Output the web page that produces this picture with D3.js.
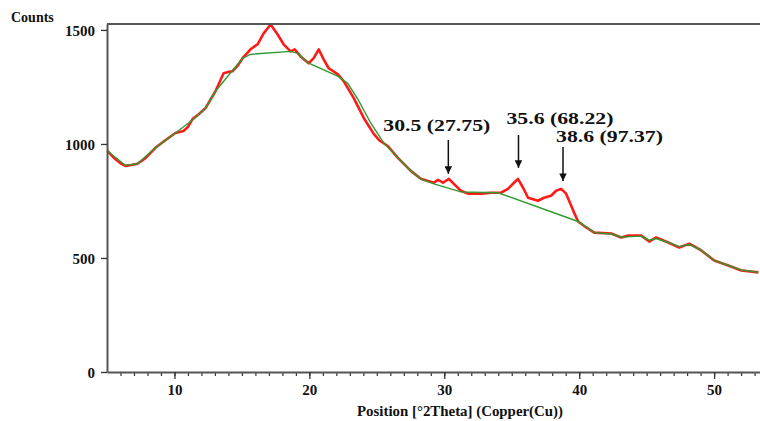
<!DOCTYPE html>
<html>
<head>
<meta charset="utf-8">
<script src="https://cdn.jsdelivr.net/npm/d3@7"></script>
<style>
  body { margin: 0; background: #fff; }
  svg { display: block; }
  text { font-family: "Liberation Serif", "Times New Roman", serif; font-weight: bold; fill: #111; }
</style>
</head>
<body>
<div id="chart"></div>
<script>
var obsPos = [5.03, 5.5, 6.0, 6.36, 6.8, 7.25, 7.8, 8.59, 9.3, 10.07, 10.67, 11.0, 11.34, 11.8, 12.3,
  13.04, 13.64, 14.0, 14.31, 14.7, 15.05, 15.64, 16.16, 16.61, 17.13, 17.65, 18.09, 18.61, 18.91,
  19.35, 19.95, 20.32, 20.69, 21.06, 21.43, 22.1, 22.55, 23.29, 24.03, 24.77, 25.2, 25.81, 26.56,
  27.52, 28.26, 28.78, 29.23, 29.53, 29.9, 30.34, 30.71, 31.23, 31.75, 32.72, 33.46, 34.2, 34.72,
  35.17, 35.46, 35.84, 36.21, 36.95, 37.39, 37.91, 38.29, 38.66, 39.03, 39.25, 39.62, 39.92, 40.5,
  41.11, 42.37, 43.11, 43.63, 44.6, 45.19, 45.71, 46.6, 47.42, 48.16, 49.05, 50.01, 51.05, 52.02, 53.28];
var obsCounts = [969, 940, 915, 904, 908, 913, 935, 983, 1015, 1048, 1057, 1075, 1109, 1130, 1157,
  1231, 1310, 1316, 1319, 1345, 1376, 1415, 1437, 1485, 1524, 1480, 1437, 1406, 1415,
  1384, 1354, 1376, 1415, 1371, 1332, 1306, 1275, 1201, 1114, 1044, 1015, 991, 939,
  882, 847, 838, 830, 843, 830, 847, 825, 795, 782, 782, 786, 786, 803,
  830, 847, 808, 764, 751, 764, 773, 795, 803, 782, 751, 699, 660, 635,
  611, 607, 590, 598, 598, 572, 590, 568, 546, 563, 533, 489, 467, 445, 437];

// fitted background (green)
var bgPos = [5.03, 6.36, 7.25, 8.59, 10.07, 11.34, 12.3, 13.04, 15.05, 15.64, 18.61, 19.13, 19.95,
  22.1, 22.84, 23.59, 24.55, 25.52, 26.56, 27.52, 28.26, 29.23, 31.23, 33.98, 39.92, 41.11,
  42.37, 43.11, 44.6, 45.19, 45.71, 46.6, 47.42, 48.16, 49.05, 50.01, 51.05, 52.02, 53.28];
var bgCounts = [969, 906, 913, 983, 1048, 1105, 1157, 1231, 1376, 1393, 1406, 1397, 1354,
  1297, 1266, 1197, 1092, 1004, 939, 882, 847, 825, 790, 786, 660, 611,
  605, 592, 596, 578, 585, 568, 550, 560, 533, 489, 467, 447, 437];

var xTicks = [10, 20, 30, 40, 50];
var yTicks = [0, 500, 1000, 1500];

var peakPos = [30.3, 35.5, 38.8];
var peakCounts = [847, 847, 803];
var peakLabels = ["30.5 (27.75)", "35.6 (68.22)", "38.6 (97.37)"];

var W = 760, H = 421;
var mLeft = 107, mRight = 762, mTop = 24, mBottom = 372;

var svg = d3.select("#chart").append("svg")
    .attr("width", W)
    .attr("height", H);

var x = d3.scaleLinear().domain([5, 53.55]).range([mLeft, mRight]);
var y = d3.scaleLinear().domain([0, 1526]).range([mBottom, mTop]);

var line = d3.line()
    .x(function(d){ return x(d[0]); })
    .y(function(d){ return y(d[1]); });

// red observed trace
svg.append("path")
    .datum(d3.zip(obsPos, obsCounts))
    .attr("d", line)
    .attr("fill", "none")
    .attr("stroke", "#ff1a1a")
    .attr("stroke-width", 2.6)
    .attr("stroke-linejoin", "round");

// green background on top
svg.append("path")
    .datum(d3.zip(bgPos, bgCounts))
    .attr("d", line)
    .attr("fill", "none")
    .attr("stroke", "#2f9a2f")
    .attr("stroke-width", 1.4);

// minor x ticks
svg.append("g")
    .attr("transform", "translate(0," + mBottom + ")")
    .call(d3.axisBottom(x).tickValues(d3.range(6, 54)).tickSize(4).tickFormat(""))
    .call(function(g){ g.select(".domain").remove(); })
    .selectAll("line").attr("stroke", "#333").attr("stroke-width", 1.2);

var xAxis = svg.append("g")
    .attr("transform", "translate(0," + mBottom + ")")
    .call(d3.axisBottom(x).tickValues(xTicks).tickSize(7).tickSizeOuter(0));
xAxis.select(".domain").attr("stroke", "#555").attr("stroke-width", 2);
xAxis.selectAll(".tick line").attr("stroke", "#333").attr("stroke-width", 1.3);
xAxis.selectAll(".tick text")
    .attr("y", 23).attr("dy", 0)
    .style("font-size", "15px")
    .style("font-family", "Liberation Serif")
    .style("font-weight", "bold")
    .attr("fill", "#111");

var yAxis = svg.append("g")
    .attr("transform", "translate(" + mLeft + ",0)")
    .call(d3.axisLeft(y).tickValues(yTicks).tickSize(6).tickPadding(6).tickSizeOuter(0)
        .tickFormat(d3.format("d")));
yAxis.select(".domain").attr("stroke", "#555").attr("stroke-width", 2);
yAxis.selectAll(".tick line").attr("stroke", "#333").attr("stroke-width", 1.3);
yAxis.selectAll(".tick text")
    .attr("dy", "0.35em")
    .style("font-size", "15px")
    .style("font-family", "Liberation Serif")
    .style("font-weight", "bold")
    .attr("fill", "#111");

// top frame line
svg.append("line")
    .attr("x1", mLeft).attr("x2", W)
    .attr("y1", mTop).attr("y2", mTop)
    .attr("stroke", "#555").attr("stroke-width", 2);

svg.append("text")
    .attr("x", 11).attr("y", 22)
    .style("font-size", "14px")
    .text("Counts");

svg.append("text")
    .attr("x", 460).attr("y", 416)
    .attr("text-anchor", "middle")
    .attr("textLength", 206)
    .attr("lengthAdjust", "spacingAndGlyphs")
    .style("font-size", "14px")
    .text("Position [\u00b02Theta] (Copper(Cu))");

// peak annotations
var labelDx = [-65, -12, -7];
var labelY = [131, 124, 142];
var arrowTop = [140, 135, 147];
var arrowGap = [5, 11, 8];

svg.append("defs").append("marker")
    .attr("id", "head")
    .attr("viewBox", "0 0 10 10")
    .attr("refX", 10).attr("refY", 5)
    .attr("markerWidth", 5).attr("markerHeight", 5)
    .attr("orient", "auto")
    .append("path")
    .attr("d", "M0,0 L10,5 L0,10 z")
    .attr("fill", "#111");

peakPos.forEach(function(p, i){
    var ax = x(p);
    svg.append("line")
        .attr("x1", ax).attr("x2", ax)
        .attr("y1", arrowTop[i])
        .attr("y2", y(peakCounts[i]) - arrowGap[i])
        .attr("stroke", "#111")
        .attr("stroke-width", 1.5)
        .attr("marker-end", "url(#head)");
    svg.append("text")
        .attr("x", ax + labelDx[i])
        .attr("y", labelY[i])
        .attr("textLength", 107)
        .attr("lengthAdjust", "spacingAndGlyphs")
        .style("font-size", "17px")
        .text(peakLabels[i]);
});
</script>
</body>
</html>
